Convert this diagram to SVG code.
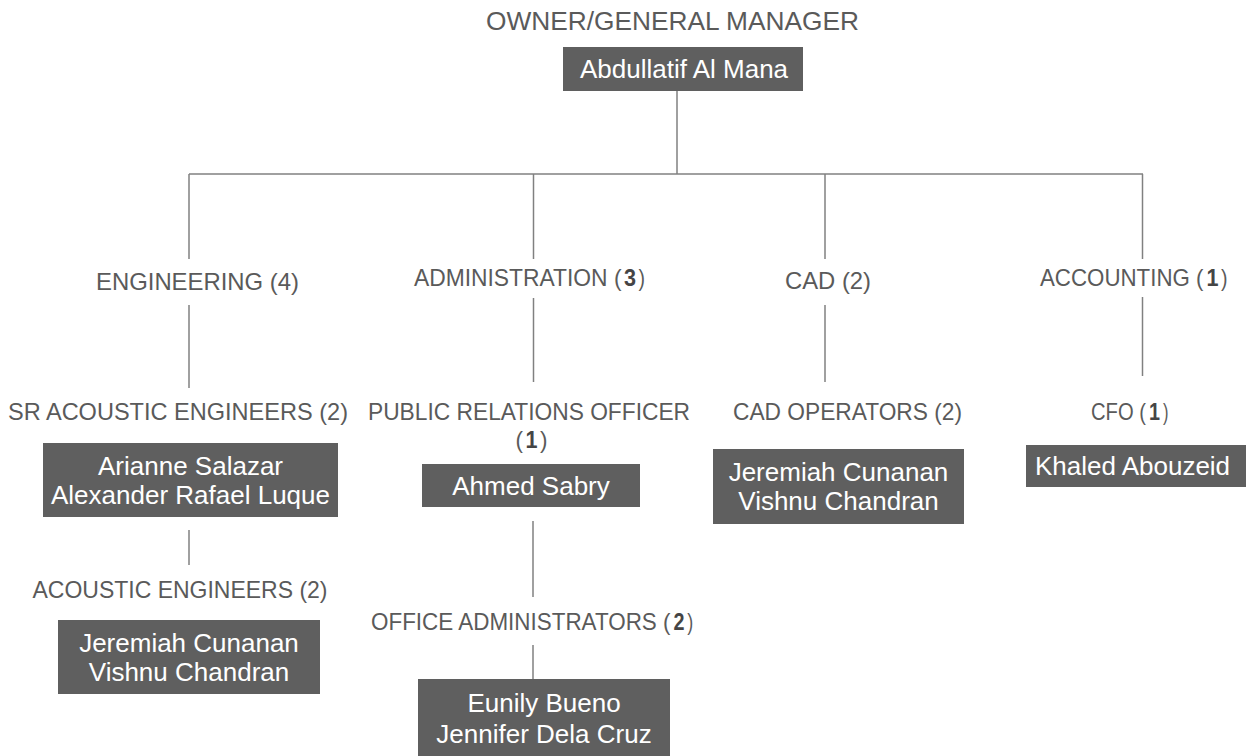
<svg xmlns="http://www.w3.org/2000/svg" width="1246" height="756" viewBox="0 0 1246 756">
<style>
.lbl{font-family:"Liberation Sans",Arial,sans-serif;font-size:24px;fill:#5a5a5a;text-anchor:middle}
.pc{font-family:"Liberation Sans",Arial,sans-serif;font-size:24px;fill:#5a5a5a;text-anchor:start}
.pe{font-family:"Liberation Sans",Arial,sans-serif;font-size:24px;fill:#5a5a5a;text-anchor:end}
.pm{font-family:"Liberation Sans",Arial,sans-serif;font-size:24px;fill:#454545;text-anchor:middle;font-weight:bold}
.ttl{font-family:"Liberation Sans",Arial,sans-serif;font-size:26px;fill:#5a5a5a;text-anchor:middle}
.nm{font-family:"Liberation Sans",Arial,sans-serif;font-size:26px;fill:#ffffff;text-anchor:middle}
.box{fill:#5f5f5f}
.con line{stroke:#808080;stroke-width:1.5}
</style>
<rect width="1246" height="756" fill="#ffffff"/>
<g id="connectors" class="con">
<line x1="677" y1="91" x2="677" y2="174"/>
<line x1="189" y1="174" x2="1143" y2="174"/>
<line x1="189" y1="174" x2="189" y2="259"/>
<line x1="533.5" y1="174" x2="533.5" y2="259"/>
<line x1="825" y1="174" x2="825" y2="259"/>
<line x1="1142.5" y1="174" x2="1142.5" y2="259"/>
<line x1="189" y1="305" x2="189" y2="388"/>
<line x1="533.5" y1="298" x2="533.5" y2="382"/>
<line x1="825" y1="305" x2="825" y2="382"/>
<line x1="1142.5" y1="297" x2="1142.5" y2="376"/>
<line x1="189" y1="530" x2="189" y2="565"/>
<line x1="533" y1="521" x2="533" y2="597"/>
<line x1="533" y1="645" x2="533" y2="679"/>
</g>
<g id="owner">
<text class="ttl" x="672.5" y="30" textLength="373" lengthAdjust="spacingAndGlyphs">OWNER/GENERAL MANAGER</text>
<rect class="box" x="563" y="47" width="240" height="44"/>
<text class="nm" x="684" y="78">Abdullatif Al Mana</text>
</g>
<g id="engineering">
<text class="lbl" x="197.5" y="290" textLength="203" lengthAdjust="spacingAndGlyphs">ENGINEERING (4)</text>
</g>
<g id="administration">
<text class="pe" x="621.5" y="286" textLength="207.5" lengthAdjust="spacingAndGlyphs">ADMINISTRATION (</text>
<text class="pm" x="630" y="286" textLength="12" lengthAdjust="spacingAndGlyphs">3</text>
<text class="pc" x="638.5" y="286" textLength="6.5" lengthAdjust="spacingAndGlyphs">)</text>
</g>
<g id="cad">
<text class="lbl" x="828" y="289" textLength="86" lengthAdjust="spacingAndGlyphs">CAD (2)</text>
</g>
<g id="accounting">
<text class="pe" x="1203.5" y="286" textLength="163.5" lengthAdjust="spacingAndGlyphs">ACCOUNTING (</text>
<text class="pm" x="1212.5" y="286" textLength="12" lengthAdjust="spacingAndGlyphs">1</text>
<text class="pc" x="1221" y="286" textLength="6.5" lengthAdjust="spacingAndGlyphs">)</text>
</g>
<g id="sr-acoustic">
<text class="lbl" x="178" y="420" textLength="340" lengthAdjust="spacingAndGlyphs">SR ACOUSTIC ENGINEERS (2)</text>
<rect class="box" x="43" y="443" width="295" height="74"/>
<text class="nm" x="190.5" y="475">Arianne Salazar</text>
<text class="nm" x="190.5" y="504">Alexander Rafael Luque</text>
</g>
<g id="acoustic">
<text class="lbl" x="180" y="598" textLength="295" lengthAdjust="spacingAndGlyphs">ACOUSTIC ENGINEERS (2)</text>
<rect class="box" x="58" y="620" width="262" height="74"/>
<text class="nm" x="189" y="652">Jeremiah Cunanan</text>
<text class="nm" x="189" y="681">Vishnu Chandran</text>
</g>
<g id="pr-officer">
<text class="lbl" x="529" y="420" textLength="322" lengthAdjust="spacingAndGlyphs">PUBLIC RELATIONS OFFICER</text>
<text class="pe" x="523" y="448" textLength="7.5" lengthAdjust="spacingAndGlyphs">(</text>
<text class="pm" x="531.5" y="448" textLength="12" lengthAdjust="spacingAndGlyphs">1</text>
<text class="pc" x="540" y="448" textLength="7.5" lengthAdjust="spacingAndGlyphs">)</text>
<rect class="box" x="422" y="464" width="218" height="43"/>
<text class="nm" x="531" y="495">Ahmed Sabry</text>
</g>
<g id="office-admin">
<text class="pe" x="670.5" y="630" textLength="299.5" lengthAdjust="spacingAndGlyphs">OFFICE ADMINISTRATORS (</text>
<text class="pm" x="679" y="630" textLength="11" lengthAdjust="spacingAndGlyphs">2</text>
<text class="pc" x="687.3" y="630" textLength="6" lengthAdjust="spacingAndGlyphs">)</text>
<rect class="box" x="418" y="679" width="252" height="80"/>
<text class="nm" x="544" y="712">Eunily Bueno</text>
<text class="nm" x="544" y="743">Jennifer Dela Cruz</text>
</g>
<g id="cad-operators">
<text class="lbl" x="847.5" y="420" textLength="229" lengthAdjust="spacingAndGlyphs">CAD OPERATORS (2)</text>
<rect class="box" x="713" y="449" width="251" height="75"/>
<text class="nm" x="838.5" y="481">Jeremiah Cunanan</text>
<text class="nm" x="838.5" y="510">Vishnu Chandran</text>
</g>
<g id="cfo">
<text class="pe" x="1146" y="420" textLength="55" lengthAdjust="spacingAndGlyphs">CFO (</text>
<text class="pm" x="1154.5" y="420" textLength="11" lengthAdjust="spacingAndGlyphs">1</text>
<text class="pc" x="1163" y="420" textLength="5.5" lengthAdjust="spacingAndGlyphs">)</text>
<rect class="box" x="1026" y="445" width="220" height="42"/>
<text class="nm" x="1132.5" y="475">Khaled Abouzeid</text>
</g>
</svg>
